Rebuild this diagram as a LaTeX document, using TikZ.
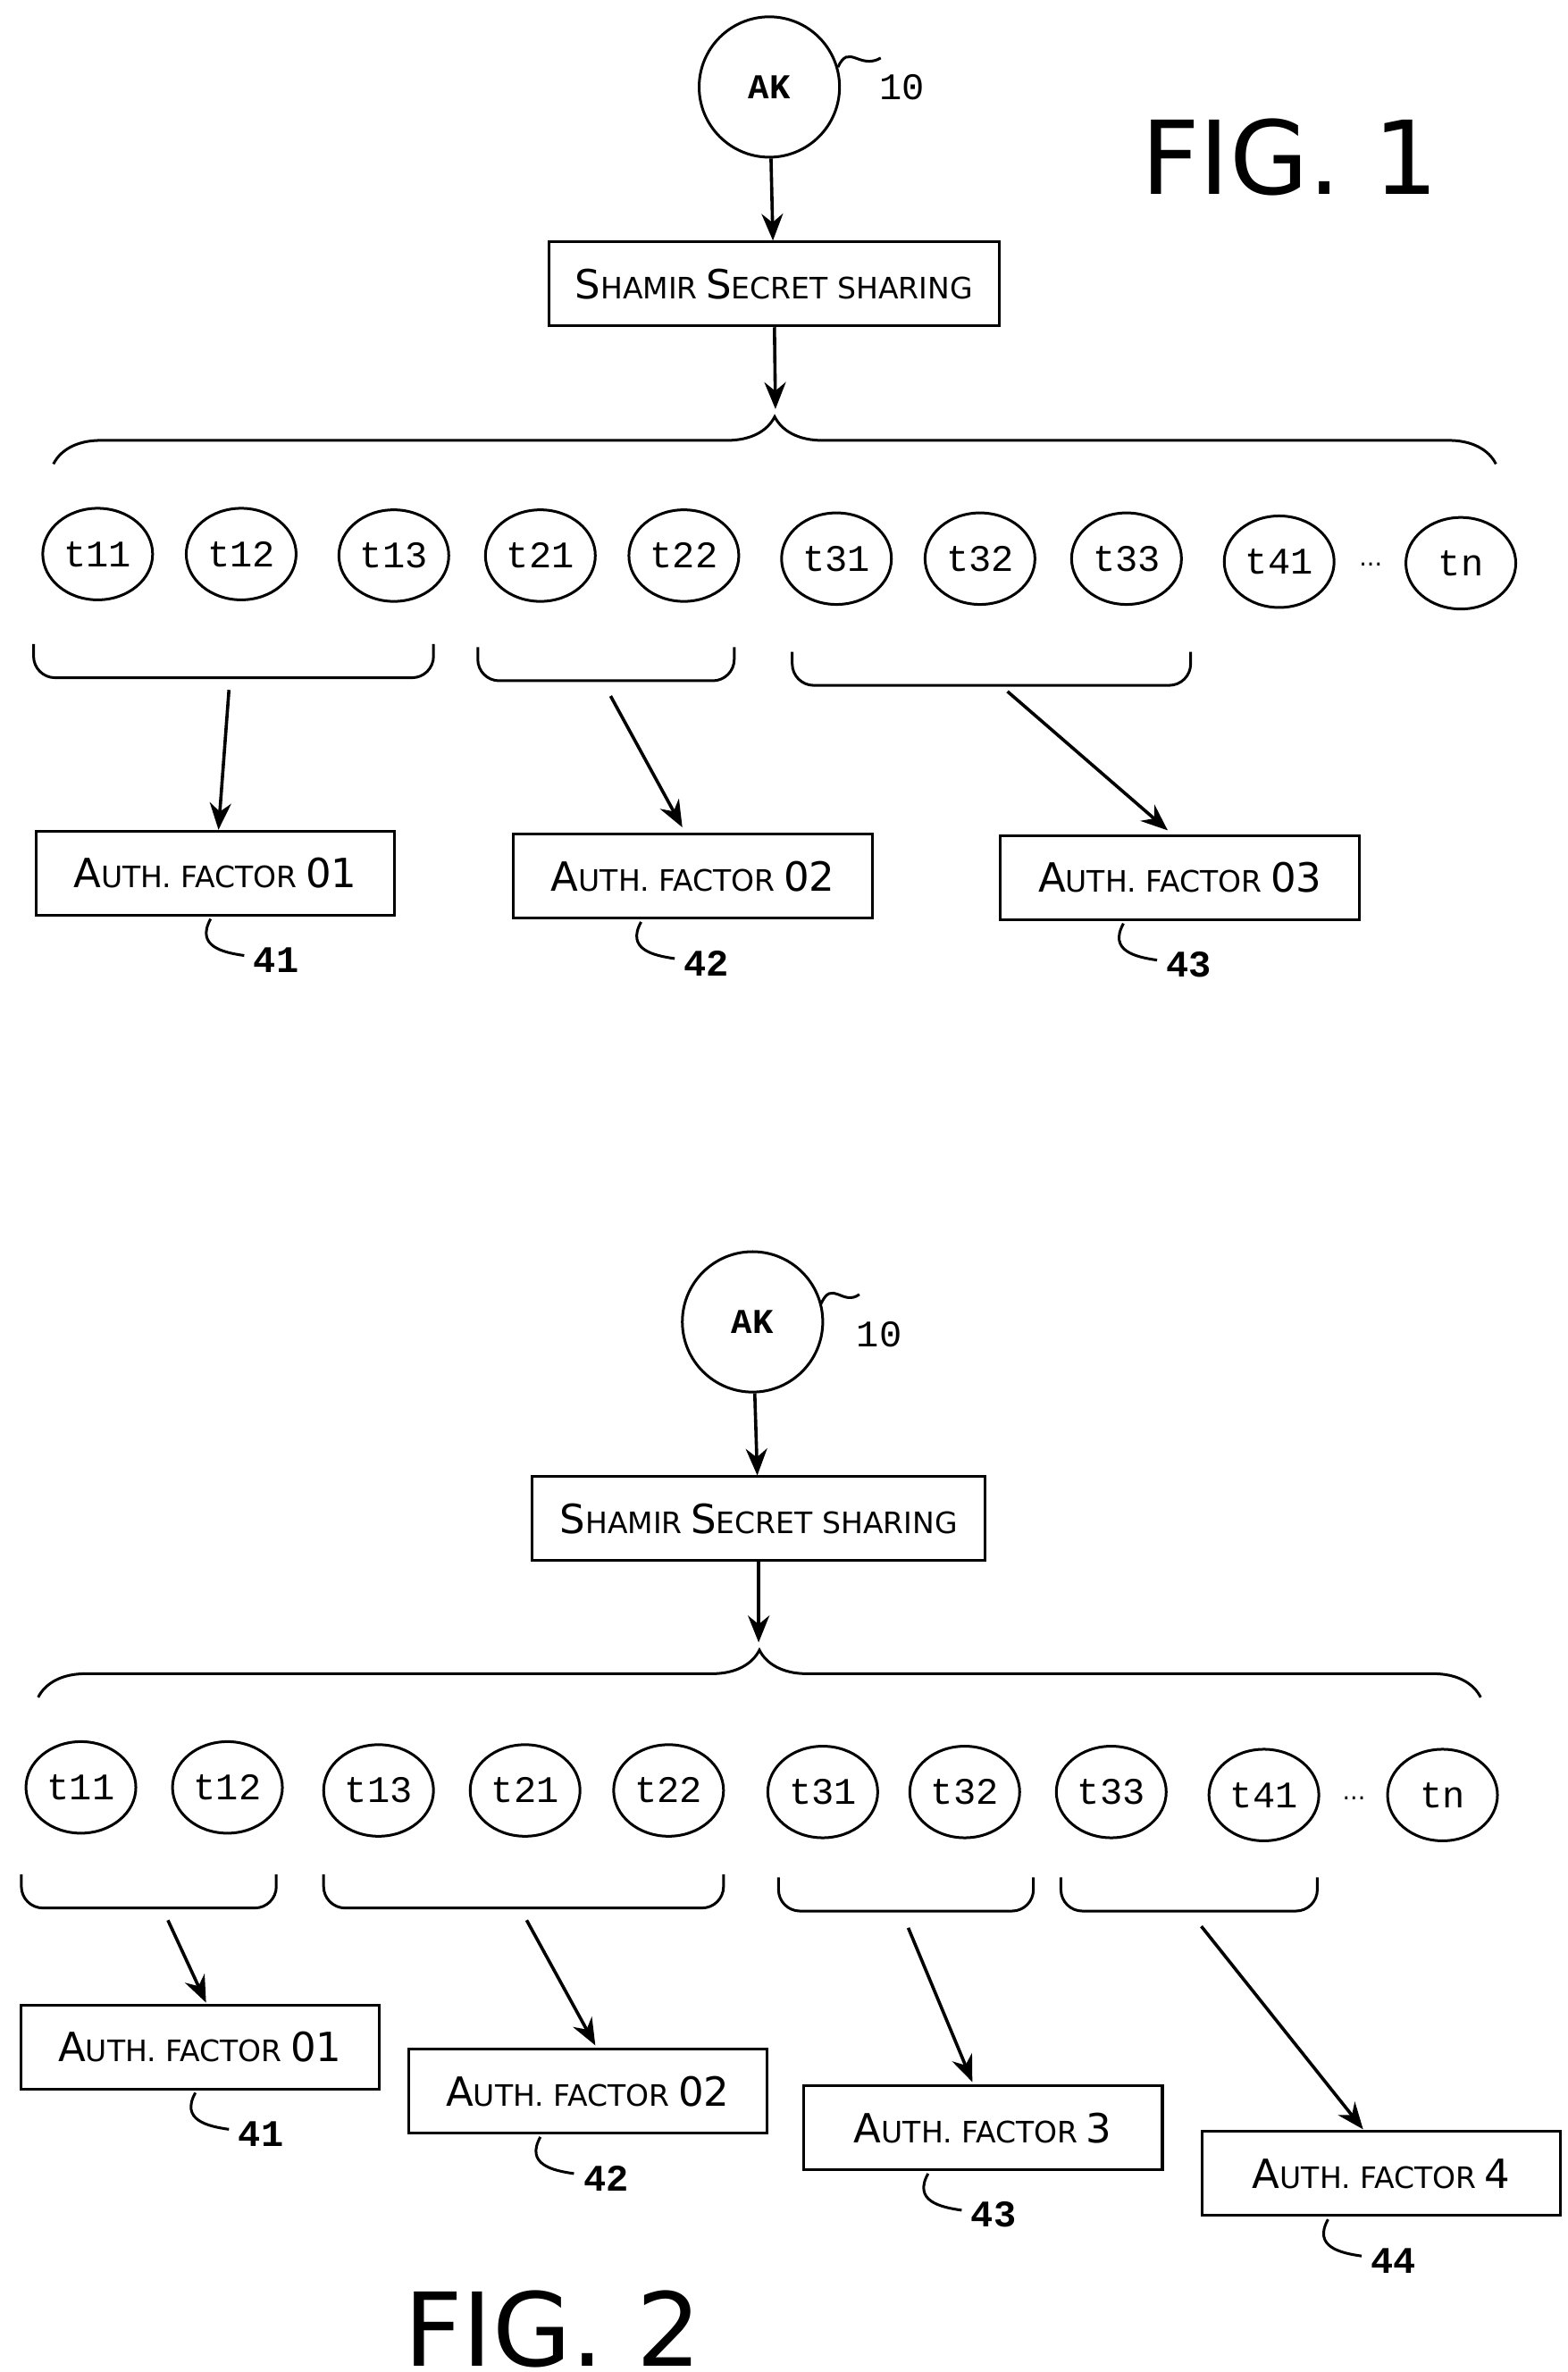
\documentclass[tikz,border=0pt]{standalone}
\usepackage{fontspec}
\setmainfont{DejaVu Sans}
\newfontfamily\tokfont{Liberation Mono}
\usetikzlibrary{shapes.geometric, arrows.meta, positioning, calc, decorations.pathreplacing}
\newcommand{\bigsc}[1]{{\fontsize{15}{18}\selectfont #1}}
\newcommand{\smsc}[1]{{\fontsize{11}{14}\selectfont #1}}
\tikzstyle{key} = [circle, draw=black, line width=1pt, minimum size=1.84cm, font=\tokfont\bfseries\fontsize{13}{15}\selectfont]
\tikzstyle{token} = [ellipse, draw=black, line width=1pt, minimum width=1.44cm, minimum height=1.2cm, inner sep=0pt, font=\tokfont\fontsize{14}{16}\selectfont]
\tikzstyle{block} = [rectangle, draw=black, line width=1pt, minimum width=4.7cm, minimum height=1.1cm, text centered]
\tikzstyle{arrow} = [line width=1.2pt,-{Stealth[length=10pt,width=8pt]}]
\tikzstyle{topbrace} = [line width=1pt, decorate, decoration={brace, amplitude=0.62cm}]
\tikzstyle{cup} = [line width=1pt, rounded corners=8pt]
\tikzstyle{ref} = [font=\tokfont\bfseries\fontsize{14}{16}\selectfont]
\tikzstyle{fig} = [font=\fontsize{38}{44}\selectfont]
\newcommand{\lowcup}[3]{\draw[cup] (#1,#3) -- (#1,#3+22) -- (#2,#3+22) -- (#2,#3);}
\begin{document}
\begin{tikzpicture}[x=0.02cm, y=-0.02cm]
    \useasboundingbox (0,0) rectangle (1027,1554);

    % FIG. 1
    \node[fig] (fig1) at (845,103) {FIG. 1};
    \node[key] (ak1) at (504,57) {AK};
    \node[font=\tokfont\fontsize{14}{16}\selectfont] (ref10a) at (591,57) {10};
    \draw[line width=1pt] (549,44) .. controls (556,28) and (563,46) .. (577,38);
    \node[block, minimum width=5.9cm] (shamir1) at (507,186) {\bigsc{S}\smsc{HAMIR} \bigsc{S}\smsc{ECRET SHARING}};
    \coordinate (tipa) at (508,268);
    \draw[arrow] (ak1) -- (shamir1);
    \draw[arrow] (shamir1) -- (tipa);
    \draw[topbrace] (35,304) -- (980,304);
    \foreach \name/\x/\y in {t11/64/363, t12/158/363, t13/258/364, t21/354/364, t22/448/364,
                             t31/548/366, t32/642/366, t33/738/366, t41/838/368, tn/957/369}
        \node[token] (a\name) at (\x,\y) {\name};
    \node[font=\small] (dotsa) at (898,370) {...};
    \lowcup{22}{284}{422}
    \lowcup{313}{481}{424}
    \lowcup{519}{780}{427}
    \coordinate (ga1) at (150,452);
    \coordinate (ga2) at (400,456);
    \coordinate (ga3) at (660,453);
    \node[block] (fa1) at (141,572) {\bigsc{A}\smsc{UTH. FACTOR} \bigsc{01}};
    \node[block] (fa2) at (454,574) {\bigsc{A}\smsc{UTH. FACTOR} \bigsc{02}};
    \node[block] (fa3) at (773,575) {\bigsc{A}\smsc{UTH. FACTOR} \bigsc{03}};
    \draw[arrow] (ga1) -- (fa1);
    \draw[arrow] (ga2) -- (447,542);
    \draw[arrow] (ga3) -- (765,544);
    \foreach \x/\y/\n in {138/602/41, 420/604/42, 736/605/43} {
        \draw[line width=1pt] (\x,\y) .. controls +(-10,18) and +(-14,-2) .. +(22,24);
        \node[ref, right] at ($(\x,\y)+(22,27)$) {\n};
    }

    % FIG. 2
    \node[fig] (fig2) at (362,1526) {FIG. 2};
    \node[key] (ak2) at (493,866) {AK};
    \node[font=\tokfont\fontsize{14}{16}\selectfont] (ref10b) at (576,874) {10};
    \draw[line width=1pt] (538,854) .. controls (545,838) and (552,856) .. (563,848);
    \node[block, minimum width=5.94cm] (shamir2) at (497,995) {\bigsc{S}\smsc{HAMIR} \bigsc{S}\smsc{ECRET SHARING}};
    \coordinate (tipb) at (497,1076);
    \draw[arrow] (ak2) -- (shamir2);
    \draw[arrow] (shamir2) -- (tipb);
    \draw[topbrace] (25,1112) -- (970,1112);
    \foreach \name/\x/\y in {t11/53/1171, t12/149/1171, t13/248/1173, t21/344/1173, t22/438/1173,
                             t31/539/1174, t32/632/1174, t33/728/1174, t41/828/1176, tn/945/1176}
        \node[token] (b\name) at (\x,\y) {\name};
    \node[font=\small] (dotsb) at (887,1178) {...};
    \lowcup{14}{181}{1228}
    \lowcup{212}{474}{1228}
    \lowcup{510}{677}{1230}
    \lowcup{695}{863}{1230}
    \coordinate (gb1) at (110,1258);
    \coordinate (gb2) at (345,1258);
    \coordinate (gb3) at (595,1263);
    \coordinate (gb4) at (787,1262);
    \node[block] (fb1) at (131,1341) {\bigsc{A}\smsc{UTH. FACTOR} \bigsc{01}};
    \node[block] (fb2) at (385,1370) {\bigsc{A}\smsc{UTH. FACTOR} \bigsc{02}};
    \node[block] (fb3) at (644,1394) {\bigsc{A}\smsc{UTH. FACTOR} \bigsc{3}};
    \node[block] (fb4) at (905,1424) {\bigsc{A}\smsc{UTH. FACTOR} \bigsc{4}};
    \draw[arrow] (gb1) -- (135,1312);
    \draw[arrow] (gb2) -- (390,1340);
    \draw[arrow] (gb3) -- (637,1364);
    \draw[arrow] (gb4) -- (893,1395);
    \foreach \x/\y/\n in {128/1371/41, 354/1400/42, 608/1424/43, 870/1454/44} {
        \draw[line width=1pt] (\x,\y) .. controls +(-10,18) and +(-14,-2) .. +(22,24);
        \node[ref, right] at ($(\x,\y)+(22,27)$) {\n};
    }
\end{tikzpicture}
\end{document}
